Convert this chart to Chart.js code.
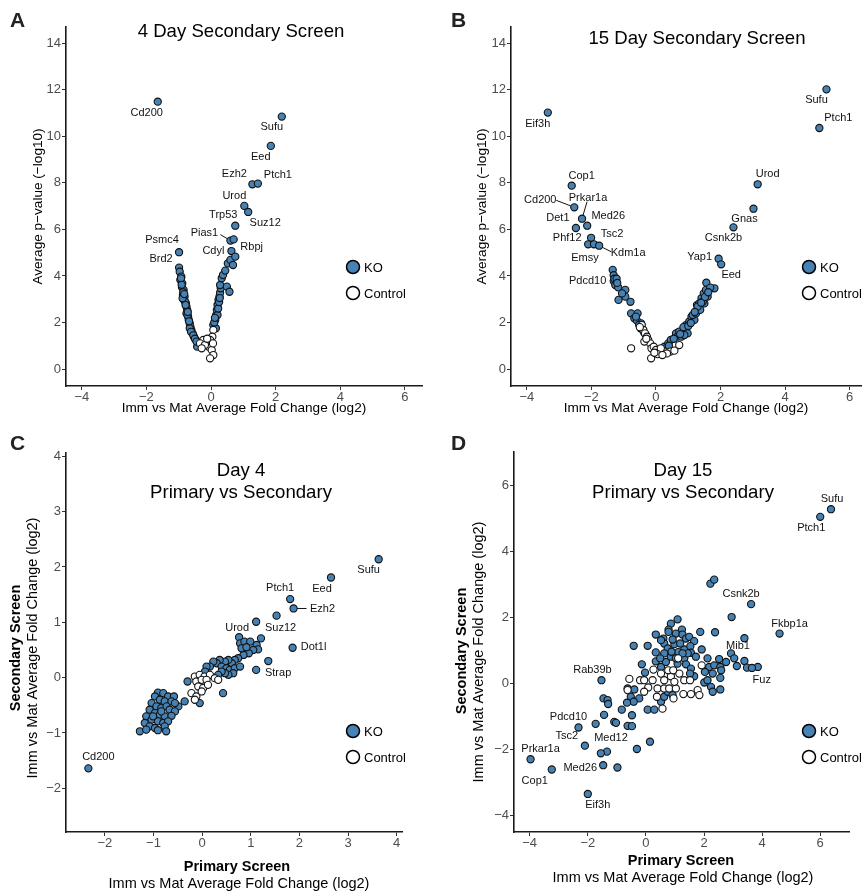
<!DOCTYPE html>
<html>
<head>
<meta charset="utf-8">
<script src="https://cdn.jsdelivr.net/npm/chart.js@4.4.0/dist/chart.umd.min.js"></script>
<style>
  body { margin: 0; background: #fff; width: 862px; height: 895px; position: relative; overflow: hidden; font-family: "Liberation Sans", Arial, sans-serif; }
  .panel { position: absolute; }
  .letter { position: absolute; font-weight: bold; font-size: 21px; color: #222; line-height: 24px; }
</style>
</head>
<body>
<div class="panel" style="left:0;top:0"><canvas id="chartA" width="431" height="420"></canvas></div>
<div class="panel" style="left:431px;top:0"><canvas id="chartB" width="431" height="420"></canvas></div>
<div class="panel" style="left:0;top:440px"><canvas id="chartC" width="431" height="455"></canvas></div>
<div class="panel" style="left:431px;top:440px"><canvas id="chartD" width="431" height="455"></canvas></div>
<div class="letter" style="left:10px;top:8px">A</div>
<div class="letter" style="left:451px;top:8px">B</div>
<div class="letter" style="left:10px;top:431px">C</div>
<div class="letter" style="left:451px;top:431px">D</div>
<script>
// ---- data ----
// A: 4 day secondary screen (x = fold change log2, y = -log10 p)
const aGenes = ['Cd200', 'Sufu', 'Eed', 'Ezh2', 'Ptch1', 'Urod', 'Suz12', 'Trp53', 'Pias1', 'Rbpj', 'Cdyl', 'Psmc4', 'Brd2'];
const aGeneX = [-1.65, 2.19, 1.85, 1.28, 1.45, 1.03, 1.15, 0.75, 0.60, 0.70, 0.63, -0.99, -0.99];
const aGeneY = [11.49, 10.85, 9.59, 7.94, 7.97, 7.01, 6.75, 6.16, 5.52, 5.57, 5.07, 5.02, 4.36];
const aKo = [[-0.97,4.18],[-0.92,3.97],[-0.95,3.83],[-0.89,3.68],[-0.90,3.51],[-0.85,3.40],[-0.87,3.18],[-0.82,3.11],
  [-0.84,2.97],[-0.78,2.82],[-0.76,2.68],[-0.74,2.54],[-0.76,2.39],[-0.71,2.25],[-0.69,2.11],[-0.66,1.96],[-0.64,1.82],
  [-0.61,1.68],[-0.57,1.53],[-0.53,1.39],[-0.47,1.25],[-0.40,1.10],[-0.43,0.96],[-0.66,1.75],[-0.80,2.89],[-0.88,3.04],
  [-0.73,2.32],[-0.93,3.90],[-0.86,3.30],[-0.79,2.75],[-0.72,2.45],[-0.68,2.05],[-0.62,1.60],[-0.55,1.45],[-0.50,1.30],
  [-0.45,1.18],[-0.91,3.62],[-0.83,3.22],
  [0.07,1.89],[0.13,2.11],[0.16,2.32],[0.18,2.54],[0.20,2.75],[0.23,2.97],[0.26,3.11],[0.28,3.28],[0.30,3.47],[0.28,3.61],
  [0.33,3.90],[0.37,4.04],[0.44,4.23],[0.52,4.54],[0.60,4.69],[0.68,4.47],[0.75,4.83],[0.49,3.54],[0.57,3.32],[0.20,2.32],
  [0.15,1.75],[0.10,2.00],[0.22,2.60],[0.25,2.88],[0.12,2.20],[0.27,3.05]];
const aCtl = [[0.07,1.68],[0.04,1.39],[-0.03,1.25],[-0.14,1.18],[-0.24,1.25],[-0.34,1.10],[-0.08,0.96],[0.02,0.82],
  [0.07,0.60],[-0.03,0.46],[-0.19,1.03],[-0.29,0.89],[0.06,1.10],[-0.12,1.30]];

// B: 15 day secondary screen
const bGenes = ['Sufu', 'Ptch1', 'Eif3h', 'Urod', 'Gnas', 'Csnk2b', 'Yap1', 'Eed', 'Cop1', 'Cd200', 'Prkar1a', 'Det1', 'Med26', 'Tsc2', 'Phf12', 'Emsy', 'Kdm1a', 'Pdcd10'];
const bGeneX = [5.28, 5.06, -3.35, 3.15, 3.02, 2.40, 1.94, 2.02, -2.61, -2.53, -2.29, -2.48, -2.13, -2.01, -2.10, -1.92, -1.76, -1.31];
const bGeneY = [12.02, 10.36, 11.02, 7.94, 6.89, 6.09, 4.74, 4.50, 7.88, 6.95, 6.46, 6.06, 6.16, 5.64, 5.36, 5.36, 5.30, 3.78];
const bKo = [[-1.34,4.26],[-1.31,4.03],[-1.29,3.88],[-1.22,3.88],[-1.26,3.61],[-1.17,3.51],[-0.95,3.40],[-0.95,3.11],
  [-1.16,2.97],[-0.79,2.89],[-0.77,2.39],[-0.57,2.39],[-0.67,2.18],[-0.59,2.08],[-0.46,1.96],[-0.48,1.75],[-0.41,1.68],
  [-0.31,1.46],[-1.20,3.70],[-1.05,3.25],[-0.62,2.25],[-0.52,1.90],[-0.36,1.55],
  [0.26,0.96],[0.38,1.10],[0.46,1.25],[0.62,1.53],[0.67,1.39],[0.72,1.61],[0.79,1.39],[0.88,1.68],[0.93,1.89],[0.98,1.53],
  [1.03,2.04],[1.10,2.25],[1.19,2.11],[1.14,2.32],[1.24,2.39],[1.27,2.75],[1.34,2.82],[1.37,2.54],[1.41,3.04],[1.48,3.25],
  [1.55,3.40],[1.60,3.11],[1.56,3.71],[1.81,3.47],[1.50,2.82],[1.29,2.68],[1.45,2.90],[1.68,3.50],[0.88,1.46],[0.55,1.30],
  [0.85,1.80],[1.00,1.85],[1.20,2.45],[1.40,2.85],[1.52,3.10],[1.62,3.30],[0.40,1.00],[0.75,1.50],[1.08,1.98]];
const bCtl = [[-0.44,1.89],[-0.39,1.68],[-0.34,1.53],[-0.28,1.39],[-0.24,1.25],[-0.18,1.10],[-0.14,0.89],[-0.15,0.46],
  [-0.77,0.89],[-0.36,1.18],[-0.07,0.96],[0.00,0.82],[0.10,0.72],[0.26,0.75],[0.44,0.75],[0.57,0.79],[0.72,1.03],
  [0.15,0.89],[0.05,0.64],[0.34,0.67],[-0.50,1.80],[-0.30,1.30],[0.20,0.60],[-0.05,0.70]];

// C: day 4 primary vs secondary (log2 fold change)
const cGenes = ['Sufu', 'Eed', 'Ptch1', 'Ezh2', 'Suz12', 'Urod', 'Dot1l', 'Strap', 'Cd200'];
const cGeneX = [3.63, 2.65, 1.81, 1.88, 1.53, 1.11, 1.86, 1.11, -2.34];
const cGeneY = [2.14, 1.81, 1.42, 1.25, 1.12, 1.01, 0.54, 0.14, -1.64];
const cKo = [[0.76,0.73],[0.78,0.62],[0.87,0.65],[0.99,0.65],[1.12,0.59],[1.21,0.71],[1.15,0.51],[1.05,0.50],[0.96,0.44],
  [0.85,0.41],[0.74,0.35],[0.67,0.32],[0.61,0.26],[0.54,0.32],[0.47,0.29],[0.36,0.32],[0.30,0.26],[0.23,0.29],[0.16,0.20],
  [0.09,0.20],[0.06,0.11],[0.40,0.20],[0.50,0.17],[0.57,0.14],[0.67,0.17],[0.78,0.20],[0.64,0.08],[0.54,0.05],[0.47,0.08],
  [0.40,0.11],[0.33,0.05],[0.43,-0.28],[0.81,0.53],[0.91,0.55],[1.36,0.30],[-0.30,-0.07],[-0.36,-0.43],[-0.05,-0.46],
  [-0.91,-0.27],[-0.80,-0.28],[-0.70,-0.34],[-0.58,-0.34],[-0.97,-0.34],[-0.87,-0.40],[-0.77,-0.43],[-0.63,-0.43],
  [-0.49,-0.52],[-1.04,-0.46],[-0.94,-0.52],[-0.84,-0.55],[-0.73,-0.52],[-0.67,-0.58],[-0.56,-0.61],[-1.08,-0.58],
  [-0.97,-0.64],[-0.87,-0.67],[-0.77,-0.70],[-0.63,-0.69],[-1.15,-0.70],[-1.04,-0.76],[-0.91,-0.79],[-0.80,-0.82],
  [-0.70,-0.79],[-1.18,-0.82],[-1.08,-0.88],[-0.97,-0.91],[-0.77,-0.88],[-1.28,-0.97],[-1.15,-0.94],[-0.91,-0.95],
  [-0.74,-0.97],[-1.01,-0.70],[-0.84,-0.61],[-0.56,-0.46]];
const cCtl = [[-0.15,0.02],[-0.05,0.05],[0.05,0.02],[0.16,0.05],[-0.12,-0.07],[-0.01,-0.04],[0.09,-0.04],[-0.08,-0.16],
  [0.02,-0.19],[-0.22,-0.28],[-0.12,-0.34],[-0.01,-0.25],[-0.15,-0.40],[0.26,-0.01],[0.33,-0.04],[0.12,-0.13]];

// D: day 15 primary vs secondary
const dGenes = ['Sufu', 'Ptch1', 'Csnk2b', 'Fkbp1a', 'Mib1', 'Fuz', 'Rab39b', 'Pdcd10', 'Tsc2', 'Med12', 'Prkar1a', 'Cop1', 'Med26', 'Eif3h'];
const dGeneX = [6.37, 6.00, 3.62, 4.60, 2.93, 3.85, -1.53, -2.32, -2.10, -1.34, -3.97, -3.24, -1.47, -2.00];
const dGeneY = [5.27, 5.04, 2.40, 1.51, 0.91, 0.50, 0.10, -1.33, -1.88, -2.06, -2.29, -2.60, -2.47, -3.34];
const dKo = [[2.22,3.02],[2.35,3.14],[2.95,2.01],[2.38,1.55],[3.39,1.37],[3.04,0.76],[3.13,0.53],[3.39,0.68],[3.48,0.48],
  [3.65,0.47],[2.76,0.65],[-1.55,-2.11],[-0.98,-2.54],[-0.31,-1.98],[0.14,-1.76],[-1.73,-1.22],[-1.44,-0.95],[-1.09,-1.16],
  [-1.03,-1.19],[-0.63,-1.28],[-0.48,-1.29],[-0.48,-0.96],[-0.83,-0.79],[-1.46,-0.45],[-1.32,-0.50],[-1.30,-0.62],
  [1.09,1.94],[0.86,1.81],[1.24,1.63],[0.78,1.63],[0.34,1.48],[0.60,1.36],[0.78,1.56],[1.03,1.51],[1.26,1.48],[1.38,1.36],
  [1.49,1.41],[1.66,1.28],[1.87,1.56],[-0.42,1.14],[0.06,1.14],[0.34,0.94],[0.63,1.21],[0.75,1.06],[0.98,1.19],[1.11,0.95],
  [1.32,1.03],[1.53,1.13],[1.55,0.93],[1.92,1.03],[-0.14,0.58],[0.34,0.67],[0.52,0.50],[0.69,0.65],[0.86,0.81],[1.09,0.60],
  [1.32,0.76],[1.38,0.58],[1.55,0.45],[1.66,0.22],[1.52,0.30],[2.12,0.76],[2.18,0.50],[2.35,0.55],[2.52,0.74],[2.56,0.50],
  [2.59,0.40],[2.03,0.35],[2.30,0.30],[2.56,0.17],[2.01,0.03],[2.12,0.10],[2.24,-0.10],[2.30,-0.25],[2.56,-0.18],
  [-0.03,0.33],[-0.63,-0.15],[-0.40,-0.18],[-0.52,-0.40],[-0.23,-0.45],[-0.42,-0.55],[-0.65,-0.58],[0.06,-0.79],[0.29,-0.79],
  [0.52,-0.55],[0.63,-0.40],[0.75,-0.25],[0.92,-0.35],[0.52,1.31],[0.92,1.33],[1.18,1.21],[1.44,0.91],[1.72,0.81],
  [0.88,0.96],[1.26,0.91],[0.63,0.91],[0.49,0.76],[1.03,0.76]];
const dCtl = [[-0.57,0.14],[-0.20,0.10],[0.08,-0.12],[0.26,0.42],[0.52,0.30],[0.63,0.10],[0.86,0.22],[1.11,0.76],[1.15,0.30],
  [1.32,0.10],[1.52,0.10],[1.92,0.55],[-0.06,0.10],[0.23,0.10],[0.40,-0.15],[0.63,-0.15],[0.80,-0.15],[1.03,-0.15],
  [1.29,-0.32],[1.55,-0.32],[1.78,-0.20],[1.84,-0.35],[0.38,-0.40],[0.57,-0.76],[0.95,-0.45],[-0.63,-0.20],[-0.06,-0.25],
  [0.98,0.05],[0.77,0.40],[0.94,0.40]];

// tick values
const volcanoXTicks = [-4, -2, 0, 2, 4, 6];
const volcanoYTicks = [0, 2, 4, 6, 8, 10, 12, 14];
const cXTicks = [-2, -1, 0, 1, 2, 3, 4];
const cYTicks = [-2, -1, 0, 1, 2, 3, 4];
const dXTicks = [-4, -2, 0, 2, 4, 6];
const dYTicks = [-4, -2, 0, 2, 4, 6];

// ---- styling / layout ----
const FONT = '"Liberation Sans", Arial, Helvetica, sans-serif';
const KO_BLUE = '#4682B4';
const FC_TITLE = 'Imm vs Mat Average Fold Change (log2)';

// label offsets (px from the point) and connector starts
const labelPos = {
  A: { Cd200: [-11, 11], Sufu: [-10, 10], Eed: [-10, 11], Ezh2: [-18, -10], Ptch1: [20, -9], Urod: [-10, -10],
       Suz12: [17, 11], Trp53: [-12, -11], Pias1: [-26, -8, -10, -6], Rbpj: [18, 8], Cdyl: [-18, 0],
       Psmc4: [-17, -12], Brd2: [-18, -9] },
  B: { Sufu: [-10, 11], Ptch1: [19, -10], Eif3h: [-10, 11], Urod: [10, -10], Gnas: [-9, 10], Csnk2b: [-10, 11],
       Yap1: [-19, -2], Eed: [10, 11], Cop1: [10, -10], Cd200: [-34, -7, -18, -7], Prkar1a: [6, -21, 5, -17],
       Det1: [-18, -10], Med26: [21, -10], Tsc2: [21, -4], Phf12: [-21, -6], Emsy: [-9, 14],
       Kdm1a: [29, 7, 12, 6], Pdcd10: [-26, 0] },
  C: { Sufu: [-10, 11], Eed: [-9, 11], Ptch1: [-10, -11], Ezh2: [29, 0, 13, 0], Suz12: [4, 12], Urod: [-19, 6],
       Dot1l: [21, -1], Strap: [22, 3], Cd200: [10, -11] },
  D: { Sufu: [1, -10], Ptch1: [-9, 11], Csnk2b: [-10, -10], Fkbp1a: [10, -10], Mib1: [7, -7], Fuz: [4, 13],
       Rab39b: [-9, -10], Pdcd10: [-10, -11], Tsc2: [-18, -10], Med12: [4, -14], Prkar1a: [10, -10],
       Cop1: [-17, 11], Med26: [-23, 3], Eif3h: [10, 11] }
};

function fmt(v) {
  return v < 0 ? '\u2212' + Math.abs(v) : String(v);
}

const decor = {
  id: 'decor',
  beforeDatasetsDraw(chart, args, o) {
    const ctx = chart.ctx, xs = chart.scales.x, ys = chart.scales.y;
    ctx.save();
    ctx.strokeStyle = '#111';
    ctx.lineWidth = 1;
    o.genes.forEach((g, i) => {
      const p = o.pos[g];
      if (p.length < 4) return;
      const px = xs.getPixelForValue(o.gx[i]), py = ys.getPixelForValue(o.gy[i]);
      ctx.beginPath();
      ctx.moveTo(px + p[2], py + p[3]);
      ctx.lineTo(px, py);
      ctx.stroke();
    });
    ctx.restore();
  },
  afterDraw(chart, args, o) {
    const ctx = chart.ctx, xs = chart.scales.x, ys = chart.scales.y;
    ctx.save();
    // gene labels
    ctx.font = '11px ' + FONT;
    ctx.fillStyle = '#111';
    ctx.textAlign = 'center';
    ctx.textBaseline = 'middle';
    o.genes.forEach((g, i) => {
      const p = o.pos[g];
      ctx.fillText(g, xs.getPixelForValue(o.gx[i]) + p[0], ys.getPixelForValue(o.gy[i]) + p[1]);
    });
    // panel title
    ctx.font = '18.6px ' + FONT;
    ctx.fillStyle = '#000';
    o.titles.forEach(t => ctx.fillText(t[0], t[1], t[2]));
    // two-line axis titles (bold first line)
    (o.axisText || []).forEach(t => {
      ctx.font = (t[1] ? 'bold ' : '') + '14.5px ' + FONT;
      ctx.save();
      ctx.translate(t[2], t[3]);
      if (t[4]) ctx.rotate(-Math.PI / 2);
      ctx.fillText(t[0], 0, 0);
      ctx.restore();
    });
    // legend
    const lg = o.legend;
    [['KO', KO_BLUE], ['Control', '#fff']].forEach((item, k) => {
      const cy = lg[1] + k * 26;
      ctx.beginPath();
      ctx.arc(lg[0], cy, 6.5, 0, Math.PI * 2);
      ctx.fillStyle = item[1];
      ctx.fill();
      ctx.lineWidth = 1.5;
      ctx.strokeStyle = '#000';
      ctx.stroke();
      ctx.font = '13px ' + FONT;
      ctx.fillStyle = '#000';
      ctx.textAlign = 'left';
      ctx.fillText(item[0], lg[2], cy + 1);
    });
    ctx.restore();
  }
};

function axis(min, max, ticks, size, title, titlePad) {
  return {
    type: 'linear',
    min: min,
    max: max,
    afterBuildTicks: s => { s.ticks = ticks.map(v => ({ value: v })); },
    afterFit: s => {
      if (s.isHorizontal()) s.height = size; else s.width = size;
      s.paddingLeft = s.paddingRight = s.paddingTop = s.paddingBottom = 0;
    },
    grid: { drawOnChartArea: false, drawTicks: true, tickLength: 4, color: '#333', lineWidth: 1 },
    border: { display: true, color: '#1a1a1a', width: 1.6 },
    ticks: { color: '#4d4d4d', font: { size: 13, family: FONT, lineHeight: 1 }, padding: 1, autoSkip: false, maxRotation: 0, callback: v => fmt(v) },
    title: { display: !!title, text: title || '', color: '#000', font: { size: 13.6, family: FONT }, padding: titlePad }
  };
}

function makePanel(id, p) {
  const ko = p.gx.map((x, i) => ({ x: x, y: p.gy[i] })).concat(p.ko.map(d => ({ x: d[0], y: d[1] })));
  const ctl = p.ctl.map(d => ({ x: d[0], y: d[1] }));
  new Chart(document.getElementById(id), {
    type: 'scatter',
    data: {
      datasets: [
        { label: 'KO', data: ko, backgroundColor: KO_BLUE, borderColor: '#111', pointRadius: 3.6, pointBorderWidth: 1.1, order: 2 },
        { label: 'Control', data: ctl, backgroundColor: '#fff', borderColor: '#111', pointRadius: 3.6, pointBorderWidth: 1.1, order: 1 }
      ]
    },
    options: {
      responsive: false,
      animation: false,
      layout: { padding: p.pad, autoPadding: false },
      scales: {
        x: axis(p.x[0], p.x[1], p.xTicks, p.xSize, p.xTitle, p.xTitlePad),
        y: axis(p.y[0], p.y[1], p.yTicks, p.ySize, p.yTitle, p.yTitlePad)
      },
      plugins: {
        legend: { display: false },
        tooltip: { enabled: false },
        decor: { genes: p.genes, gx: p.gx, gy: p.gy, pos: p.pos, titles: p.titles, legend: p.legend, axisText: p.axisText }
      }
    },
    plugins: [decor]
  });
}

makePanel('chartA', {
  genes: aGenes, gx: aGeneX, gy: aGeneY, ko: aKo, ctl: aCtl, pos: labelPos.A,
  x: [-4.49, 6.53], y: [-0.73, 14.7], xTicks: volcanoXTicks, yTicks: volcanoYTicks,
  pad: { left: 0, right: 9, top: 27, bottom: 0 }, xSize: 34, ySize: 66,
  xTitle: FC_TITLE, xTitlePad: { top: 0, bottom: 4 },
  yTitle: 'Average p\u2212value (\u2212log10)', yTitlePad: { top: 30, bottom: 0 },
  titles: [['4 Day Secondary Screen', 241, 32]], legend: [353, 267, 364]
});

makePanel('chartB', {
  genes: bGenes, gx: bGeneX, gy: bGeneY, ko: bKo, ctl: bCtl, pos: labelPos.B,
  x: [-4.49, 6.35], y: [-0.73, 14.7], xTicks: volcanoXTicks, yTicks: volcanoYTicks,
  pad: { left: 0, right: 1, top: 27, bottom: 0 }, xSize: 34, ySize: 80,
  xTitle: FC_TITLE, xTitlePad: { top: 0, bottom: 4 },
  yTitle: 'Average p\u2212value (\u2212log10)', yTitlePad: { top: 43.5, bottom: 0 },
  titles: [['15 Day Secondary Screen', 266, 39]], legend: [378, 267, 389]
});

makePanel('chartC', {
  genes: cGenes, gx: cGeneX, gy: cGeneY, ko: cKo, ctl: cCtl, pos: labelPos.C,
  x: [-2.80, 4.11], y: [-2.79, 4.06], xTicks: cXTicks, yTicks: cYTicks,
  pad: { left: 0, right: 29, top: 13, bottom: 0 }, xSize: 63, ySize: 66,
  axisText: [['Primary Screen', true, 237, 427, false], [FC_TITLE, false, 239, 444, false],
             ['Secondary Screen', true, 16, 208, true], [FC_TITLE, false, 33, 208, true]],
  titles: [['Day 4', 241, 31], ['Primary vs Secondary', 241, 53]], legend: [353, 291, 364]
});

makePanel('chartD', {
  genes: dGenes, gx: dGeneX, gy: dGeneY, ko: dKo, ctl: dCtl, pos: labelPos.D,
  x: [-4.54, 6.99], y: [-4.49, 7.0], xTicks: dXTicks, yTicks: dYTicks,
  pad: { left: 0, right: 13, top: 12, bottom: 0 }, xSize: 63, ySize: 83,
  axisText: [['Primary Screen', true, 250, 421, false], [FC_TITLE, false, 252, 438, false],
             ['Secondary Screen', true, 31, 211, true], [FC_TITLE, false, 48, 212, true]],
  titles: [['Day 15', 252, 31], ['Primary vs Secondary', 252, 53]], legend: [378, 291, 389]
});
</script>
</body>
</html>
